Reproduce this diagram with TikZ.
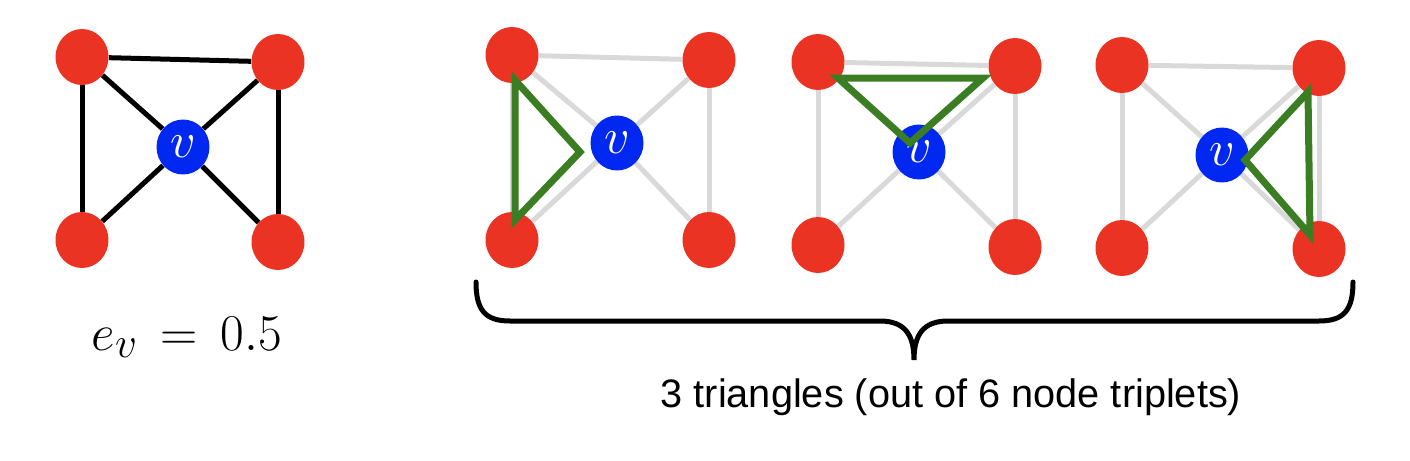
\documentclass[tikz,border=0pt]{standalone}
\usepackage{fontspec}
\usepackage{tikz}
\usetikzlibrary{shapes.geometric, positioning, calc, backgrounds}
\newfontfamily\labelfont{Liberation Sans}
\definecolor{nodered}{RGB}{234,51,35}
\definecolor{nodeblue}{RGB}{0,40,240}
\definecolor{trigreen}{RGB}{58,125,34}
\definecolor{fadegray}{RGB}{217,217,217}
\newcommand{\vlabel}{\scalebox{1.15}{$v$}}
\tikzstyle{outer} = [ellipse, minimum width=1.06cm, minimum height=1.12cm, inner sep=0pt, fill=nodered]
\tikzstyle{centre} = [ellipse, minimum width=1.06cm, minimum height=1.1cm, inner sep=0pt, fill=nodeblue, text=white, font=\fontsize{24.88}{28}\selectfont]
\tikzstyle{link} = [line width=0.1cm, black]
\tikzstyle{fadedlink} = [line width=0.1cm, fadegray]
\tikzstyle{triline} = [line width=0.14cm, trigreen, line join=miter]

\begin{document}
\begin{tikzpicture}[x=0.02cm, y=-0.02cm]
        \useasboundingbox (0,0) rectangle (1410,460);

        % Graph with all edges
        \node (a1) [outer] at (82,57) {};
        \node (a2) [outer] at (278,62) {};
        \node (av) [centre] at (183,147) {\vlabel};
        \node (a3) [outer] at (82,240) {};
        \node (a4) [outer] at (278,242) {};
        \node (ev) [anchor=base] at (187,350) {\fontsize{24.88}{30}\selectfont\scalebox{1.18}{$e_v\,=\,0.5$}};

        % First triplet
        \node (b1) [outer] at (512,55) {};
        \node (b2) [outer] at (709,60) {};
        \node (bv) [centre] at (617,143) {\vlabel};
        \node (b3) [outer] at (512,240) {};
        \node (b4) [outer] at (709,240) {};

        % Second triplet
        \node (c1) [outer] at (818,62) {};
        \node (c2) [outer] at (1015,66) {};
        \node (cv) [centre] at (919,152) {\vlabel};
        \node (c3) [outer] at (818,245) {};
        \node (c4) [outer] at (1015,247) {};

        % Third triplet
        \node (d1) [outer] at (1122,65) {};
        \node (d2) [outer] at (1319,68) {};
        \node (dv) [centre] at (1222,155) {\vlabel};
        \node (d3) [outer] at (1122,248) {};
        \node (d4) [outer] at (1319,249) {};

        % Edges
        \begin{scope}[on background layer]
            \draw [link] (a1) -- (a2);
            \draw [link] (a1) -- (a3);
            \draw [link] (a2) -- (a4);
            \draw [link] (a1) -- (av);
            \draw [link] (a2) -- (av);
            \draw [link] (a3) -- (av);
            \draw [link] (a4) -- (av);

            \draw [fadedlink] (b1) -- (b2);
            \draw [fadedlink] (b1) -- (b3);
            \draw [fadedlink] (b2) -- (b4);
            \draw [fadedlink] (b1) -- (bv);
            \draw [fadedlink] (b2) -- (bv);
            \draw [fadedlink] (b3) -- (bv);
            \draw [fadedlink] (b4) -- (bv);

            \draw [fadedlink] (c1) -- (c2);
            \draw [fadedlink] (c1) -- (c3);
            \draw [fadedlink] (c2) -- (c4);
            \draw [fadedlink] (c1) -- (cv);
            \draw [fadedlink] (c2) -- (cv);
            \draw [fadedlink] (c3) -- (cv);
            \draw [fadedlink] (c4) -- (cv);

            \draw [fadedlink] (d1) -- (d2);
            \draw [fadedlink] (d1) -- (d3);
            \draw [fadedlink] (d2) -- (d4);
            \draw [fadedlink] (d1) -- (dv);
            \draw [fadedlink] (d2) -- (dv);
            \draw [fadedlink] (d3) -- (dv);
            \draw [fadedlink] (d4) -- (dv);
        \end{scope}

        % Triangles
        \draw [triline] ($(b1)+(3,25)$) -- ($(bv)+(-37,9)$) -- ($(b3)+(3,-20)$) -- cycle;
        \draw [triline] ($(c1)+(20,16)$) -- ($(c2)+(-32,12)$) -- ($(cv)+(-9,-9)$) -- cycle;
        \draw [triline] ($(d2)+(-11,24)$) -- ($(dv)+(23,5)$) -- ($(d4)+(-9,-14)$) -- cycle;

        % Brace
        \coordinate (braceL) at (476,282);
        \coordinate (braceR) at (1353,282);
        \coordinate (braceTip) at (914,360);
        \draw [link, line cap=round] (braceL) .. controls (476,310) and (485,321) .. (510,321)
            -- (880,321) .. controls (905,321) and (914,335) .. (braceTip)
            .. controls (914,335) and (923,321) .. (948,321)
            -- (1319,321) .. controls (1344,321) and (1353,310) .. (braceR);
        \node (count) [anchor=base, font=\labelfont\fontsize{22.6}{27}\selectfont] at (951,407) {3 triangles (out of 6 node triplets)};
    \end{tikzpicture}
\end{document}
